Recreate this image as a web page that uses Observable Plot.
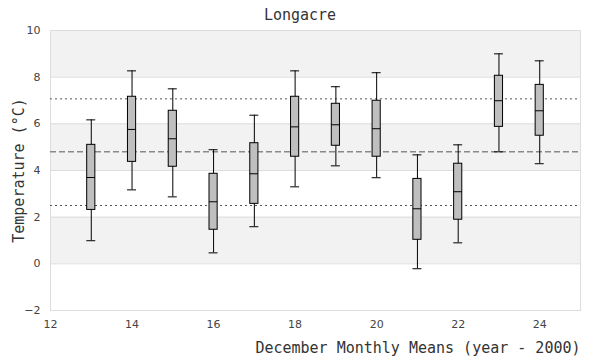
<!DOCTYPE html>
<html><head><meta charset="utf-8">
<script src="https://cdn.jsdelivr.net/npm/d3@7"></script>
<script src="https://cdn.jsdelivr.net/npm/@observablehq/plot@0.6"></script>
<style>
body{margin:0;background:#fff;}
#title{width:600px;height:24px;box-sizing:border-box;padding-top:8px;text-align:center;font:15px "DejaVu Sans Mono",monospace;line-height:15px;color:#333;}
g[aria-label="y-axis label"] text{font:15px "DejaVu Sans Mono",monospace;fill:#333;}
g[aria-label="y-axis tick label"] text, g[aria-label="x-axis tick label"] text{font:11px "DejaVu Sans",sans-serif;fill:#444;}
</style>
</head><body>
<div id="title">Longacre</div>
<div id="chart"></div>
<script>
const years = [13,14,15,16,17,18,19,20,21,22,23,24];
const whiskerLow  = [0.99,3.17,2.87,0.47,1.59,3.30,4.20,3.69,-0.21,0.90,4.80,4.29];
const q1          = [2.31,4.37,4.16,1.46,2.57,4.59,5.06,4.59,1.03,1.89,5.87,5.49];
const median      = [3.70,5.76,5.36,2.66,3.86,5.87,5.96,5.79,2.36,3.09,6.99,6.56];
const q3          = [5.10,7.16,6.56,3.86,5.17,7.16,6.86,6.99,3.64,4.29,8.06,7.67];
const whiskerHigh = [6.17,8.27,7.50,4.89,6.37,8.27,7.59,8.19,4.67,5.10,9.00,8.70];
const bandLow = [8,4,0];
const bandHigh = [10,6,2];
const yTicks = [-2,0,2,4,6,8,10];
const xTicks = [12,14,16,18,20,22,24];
const meanLine = [4.8];
const sdLines = [7.07,2.5];
const xLabel = "December Monthly Means (year - 2000)";

const boxes = years.map((y,i)=>({year:y, lo:whiskerLow[i], q1:q1[i], med:median[i], q3:q3[i], hi:whiskerHigh[i]}));
const bands = bandLow.map((b,i)=>({y1:b, y2:bandHigh[i]}));
const hw = 0.1, cw = 0.11;

const chart = Plot.plot({
  width:600, height:336,
  marginTop:6, marginBottom:50, marginLeft:50, marginRight:20,
  x:{domain:[12,25]},
  y:{domain:[-2,10]},
  marks:[
    Plot.rect(bands,{x1:12,x2:25,y1:"y1",y2:"y2",fill:"#f2f2f2"}),
    Plot.gridY(yTicks,{stroke:"#dddddd",strokeOpacity:1}),
    Plot.frame({stroke:"#dddddd"}),
    Plot.ruleY(sdLines,{x1:12,x2:25,stroke:"#555",strokeDasharray:"2,3"}),
    Plot.ruleY(meanLine,{x1:12,x2:25,stroke:"#555",strokeDasharray:"6,3"}),
    Plot.ruleX(boxes,{x:"year",y1:"lo",y2:"hi",stroke:"black"}),
    Plot.ruleY(boxes,{y:"lo",x1:d=>d.year-cw,x2:d=>d.year+cw,stroke:"black"}),
    Plot.ruleY(boxes,{y:"hi",x1:d=>d.year-cw,x2:d=>d.year+cw,stroke:"black"}),
    Plot.rect(boxes,{x1:d=>d.year-hw,x2:d=>d.year+hw,y1:"q1",y2:"q3",fill:"#bfbfbf",stroke:"black",strokeWidth:1}),
    Plot.ruleY(boxes,{y:"med",x1:d=>d.year-hw,x2:d=>d.year+hw,stroke:"black"}),
    Plot.axisY(yTicks,{tickSize:0,tickPadding:10,label:"Temperature (°C)",labelAnchor:"center",labelArrow:"none",labelOffset:37}),
    Plot.axisX(xTicks,{tickSize:0,tickPadding:10,label:null}),
    Plot.text([xLabel],{text:d=>d,frameAnchor:"bottom-right",textAnchor:"end",dy:42,fontFamily:"DejaVu Sans Mono",fontSize:15,fill:"#333"})
  ]
});
document.getElementById("chart").appendChild(chart);
</script>
</body></html>
